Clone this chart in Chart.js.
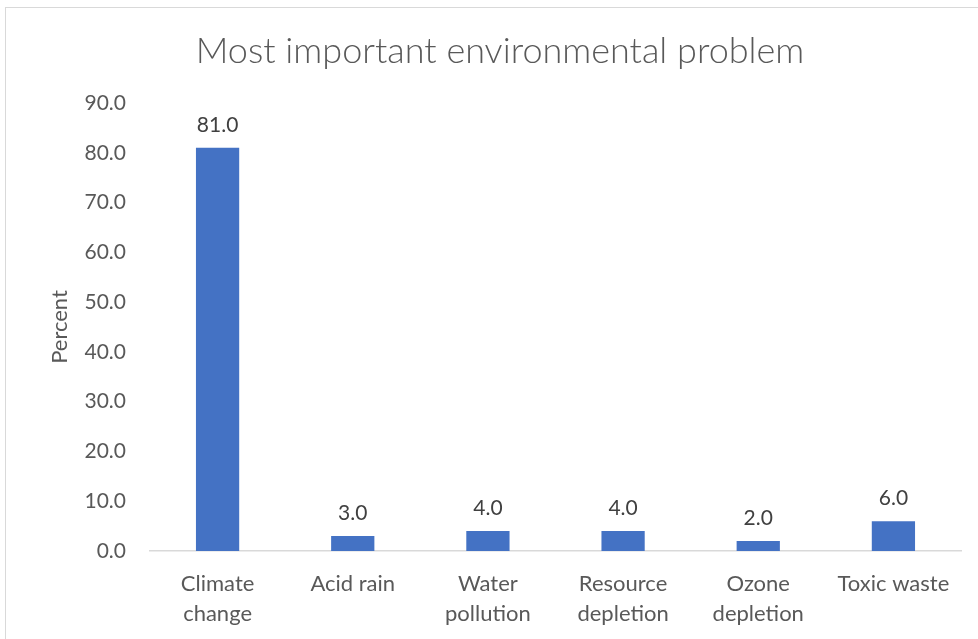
<!DOCTYPE html>
<html>
<head>
<meta charset="utf-8">
<script src="https://cdn.jsdelivr.net/npm/chart.js@4"></script>
<style>
  html, body { margin: 0; padding: 0; background: #fff; }
  #wrap { position: relative; width: 978px; height: 639px; overflow: hidden; }
  #frame { position: absolute; left: 5px; top: 7px; width: 990px; height: 650px; border: 1px solid #d9d9d9; box-sizing: border-box; }
  canvas { position: absolute; left: 0; top: 0; }
</style>
</head>
<body>
<div id="wrap">
  <div id="frame"></div>
  <canvas id="chart" width="978" height="639"></canvas>
</div>
<script>
// Chart data
const categories = [["Climate", "change"], "Acid rain", ["Water", "pollution"], ["Resource", "depletion"], ["Ozone", "depletion"], "Toxic waste"];
const percentValues = [81.0, 3.0, 4.0, 4.0, 2.0, 6.0];
const yTicks = [0, 10, 20, 30, 40, 50, 60, 70, 80, 90];
const chartTitle = "Most important environmental problem";

const FONT = "Lato";

// Title centred on the outer frame, not the canvas
const titleText = {
  id: "titleText",
  afterDraw(chart) {
    const ctx = chart.ctx;
    ctx.save();
    ctx.font = "300 36px " + FONT;
    ctx.fillStyle = "#595959";
    ctx.textAlign = "center";
    ctx.textBaseline = "alphabetic";
    ctx.fillText(chartTitle, 500, 63);
    ctx.restore();
  }
};

// Draw value labels above each bar
const barLabels = {
  id: "barLabels",
  afterDatasetsDraw(chart) {
    const ctx = chart.ctx;
    const meta = chart.getDatasetMeta(0);
    ctx.save();
    ctx.font = "21px " + FONT;
    ctx.fillStyle = "#404040";
    ctx.textAlign = "center";
    ctx.textBaseline = "alphabetic";
    meta.data.forEach((bar, i) => {
      ctx.fillText(percentValues[i].toFixed(1), bar.x, bar.y - 16);
    });
    ctx.restore();
  }
};

new Chart(document.getElementById("chart"), {
  type: "bar",
  data: {
    labels: categories,
    datasets: [{
      label: "Percent",
      data: percentValues,
      backgroundColor: "#4472c4",
      barPercentage: 0.32,
      categoryPercentage: 1.0,
    }],
  },
  options: {
    responsive: false,
    animation: false,
    layout: { padding: { left: 0, right: 17, top: 103, bottom: 0 } },
    plugins: {
      legend: { display: false },
      tooltip: { enabled: false },
      title: { display: false },
    },
    scales: {
      x: {
        grid: { display: false, drawTicks: false },
        border: { display: true, color: "#d9d9d9", width: 1.5 },
        ticks: {
          color: "#595959",
          font: { family: FONT, size: 22, lineHeight: 1.35 },
          padding: 18,
          maxRotation: 0,
          autoSkip: false,
        },
        afterFit(scale) { scale.height = 88; },
      },
      y: {
        min: 0,
        max: 90,
        grid: { display: false, drawTicks: false },
        border: { display: false },
        afterBuildTicks(scale) { scale.ticks = yTicks.map(v => ({ value: v })); },
        ticks: {
          color: "#595959",
          font: { family: FONT, size: 21 },
          padding: 24,
          callback: v => Number(v).toFixed(1),
        },
        title: {
          display: true,
          text: "Percent",
          color: "#595959",
          font: { family: FONT, size: 22, weight: "normal" },
          padding: { top: 47, bottom: 0 },
        },
        afterFit(scale) { scale.width = 150; },
      },
    },
  },
  plugins: [barLabels, titleText],
});
</script>
</body>
</html>
